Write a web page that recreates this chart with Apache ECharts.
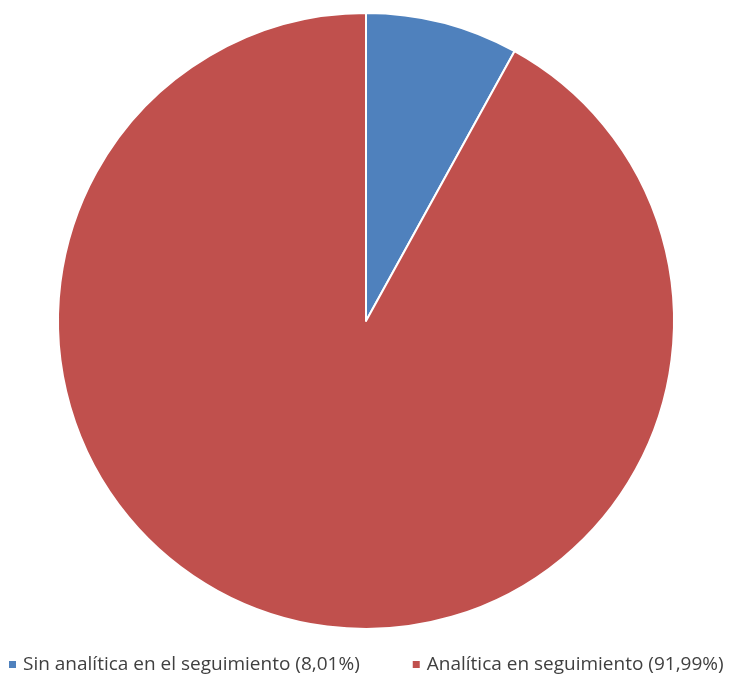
<!DOCTYPE html>
<html>
<head>
<meta charset="utf-8">
<script src="https://cdn.jsdelivr.net/npm/echarts@6/dist/echarts.min.js"></script>
<style>
  html, body { margin: 0; padding: 0; background: #fff; }
  #chart { width: 736px; height: 677px; }
</style>
</head>
<body>
<div id="chart"></div>
<script>
// Share of follow-ups with and without lab analytics
const categories = ['Sin analítica en el seguimiento (8,01%)', 'Analítica en seguimiento (91,99%)'];
const values = [8.01, 91.99];
const colors = ['#4F81BD', '#C0504D'];

const chart = echarts.init(document.getElementById('chart'));
chart.setOption({
  animation: false,
  color: colors,
  legend: {
    top: 655,
    left: 7,
    padding: 0,
    itemWidth: 9,
    itemHeight: 9,
    itemGap: 51,
    icon: 'rect',
    textStyle: { fontFamily: 'Open Sans', fontSize: 19, color: '#404040', padding: [0, 0, 0, 1] },
    data: categories
  },
  series: [{
    type: 'pie',
    center: [366, 321],
    radius: [0, 308],
    startAngle: 90,
    clockwise: true,
    label: { show: false },
    labelLine: { show: false },
    itemStyle: { borderColor: '#fff', borderWidth: 2 },
    emphasis: { disabled: true },
    data: categories.map((name, i) => ({ name, value: values[i] }))
  }]
});
</script>
</body>
</html>
